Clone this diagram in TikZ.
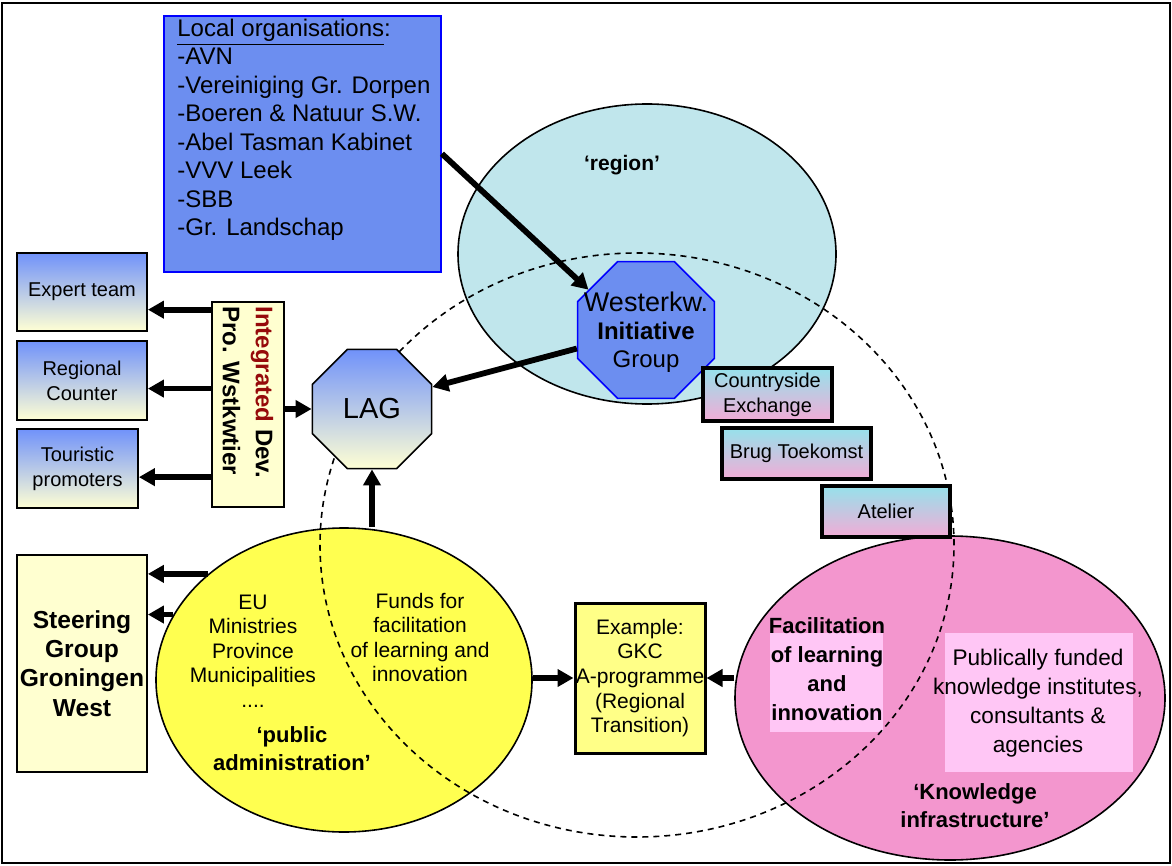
\documentclass[tikz,border=0pt]{standalone}
\usepackage{fontspec}
\setmainfont{Liberation Sans}
\usetikzlibrary{arrows.meta,shapes.geometric,calc}
\definecolor{lorgblue}{RGB}{108,142,240}
\definecolor{regioncol}{RGB}{192,230,236}
\definecolor{yellowcol}{RGB}{255,255,80}
\definecolor{pinkcol}{RGB}{243,150,206}
\definecolor{pinklight}{RGB}{255,198,245}
\definecolor{lightyellow}{RGB}{255,255,208}
\definecolor{exyellow}{RGB}{255,255,135}
\definecolor{gradblue}{RGB}{112,146,250}
\definecolor{gradyellow}{RGB}{255,255,212}
\definecolor{cbtop}{RGB}{150,225,235}
\definecolor{cbbot}{RGB}{242,172,214}
\definecolor{darkred}{RGB}{150,10,10}
\begin{document}
\begin{tikzpicture}[x=0.5pt,y=-0.5pt,
  arr/.style={line width=2.9pt,-{Triangle[length=8pt,width=8.5pt]}},
  gbox/.style={draw=black,line width=0.9pt,top color=gradblue,bottom color=gradyellow,inner sep=0pt,align=center,font=\fontsize{10}{12.5}\selectfont},
  ybox/.style={draw=black,line width=0.9pt,fill=lightyellow,inner sep=0pt},
  cbox/.style={draw=black,line width=1.6pt,top color=cbtop,bottom color=cbbot,inner sep=0pt,align=center,font=\fontsize{10}{12.5}\selectfont},
  oct/.style={regular polygon,regular polygon sides=8,inner sep=0pt},
  bubble/.style={ellipse,draw=black,line width=0.8pt,inner sep=0pt},
  hl/.style={fill=pinklight,inner sep=0pt},
  txt/.style={inner sep=0pt,align=center}]
\useasboundingbox (0,0) rectangle (1172,866);
\draw[line width=1pt] (2,3) rectangle (1170,863);

% big bubbles
\node[bubble,fill=regioncol,minimum width=189pt,minimum height=150pt] (region) at (647,254) {};
\node[bubble,fill=yellowcol,minimum width=188pt,minimum height=152pt] (yellow) at (344,680) {};
\node[bubble,fill=pinkcol,minimum width=215pt,minimum height=162pt] (pink) at (950,698) {};

% highlight areas in pink bubble
\node[hl,minimum width=56.5pt,minimum height=49.5pt] (fachl) at (826.5,682.5) {};
\node[hl,minimum width=94pt,minimum height=69.5pt] (pubhl) at (1039,702.5) {};

% dashed overlap ellipse
\node[ellipse,draw=black,line width=0.8pt,dash pattern=on 3pt off 2.5pt,minimum width=317pt,minimum height=292pt,inner sep=0pt] (learn) at (637,545) {};

% texts in bubbles
\node[txt,font=\bfseries\fontsize{10.5}{12}\selectfont] (regiontext) at (622,165) {‘region’};
\node[txt,font=\fontsize{10.5}{12.25}\selectfont] (admin) at (253,651) {EU\\Ministries\\Province\\Municipalities\\....};
\node[txt,font=\fontsize{10.5}{12.25}\selectfont] (funds) at (420,637.5) {Funds for\\facilitation\\of learning and\\innovation};
\node[txt,font=\bfseries\fontsize{11}{14}\selectfont] (pubadm) at (292,749) {‘public\\administration’};
\node[txt,font=\bfseries\fontsize{11}{14.5}\selectfont] (fac) at (827,669) {Facilitation\\of learning\\and\\innovation};
\node[txt,font=\fontsize{11.3}{14.5}\selectfont] (pub) at (1038,703.5) {Publically funded\\knowledge institutes,\\consultants \&\\agencies};
\node[txt,font=\bfseries\fontsize{11}{14}\selectfont] (kinf) at (975,806) {‘Knowledge\\infrastructure’};

% local organisations
\node[draw=blue,line width=0.9pt,fill=lorgblue,minimum width=138.5pt,minimum height=128pt,inner sep=0pt] (lorg) at (302.5,144) {};
\node[txt,anchor=west,align=left,font=\fontsize{12}{14.25}\selectfont] (lorgtext) at (177,130) {\underline{Local organisations}:\\-AVN\\-Vereiniging Gr. Dorpen\\-Boeren \& Natuur S.W.\\-Abel Tasman Kabinet\\-VVV Leek\\-SBB\\-Gr. Landschap};

% Westerkw octagon
\node[oct,draw=blue,line width=0.8pt,fill=lorgblue,minimum size=74pt] (wk) at (646,330) {};
\node[txt,font=\fontsize{12}{14}\selectfont] (wktext) at (646,332) {{\fontsize{13.5}{14}\selectfont Westerkw.}\\{\bfseries Initiative}\\Group};

% LAG octagon
\node[oct,draw=black,line width=0.8pt,top color=gradblue,bottom color=gradyellow,minimum size=64.5pt] (lag) at (372,409) {};
\node[txt,font=\fontsize{14.5}{16}\selectfont] (lagtext) at (lag) {LAG};

% left boxes
\node[gbox,minimum width=65pt,minimum height=39pt] (expert) at (82,292) {Expert team};
\node[gbox,minimum width=65pt,minimum height=39.5pt] (regional) at (82,380.5) {Regional\\Counter};
\node[gbox,minimum width=60.5pt,minimum height=39.5pt] (tour) at (77.5,468.5) {Touristic\\promoters};

\node[ybox,minimum width=36pt,minimum height=102.5pt] (intd) at (248,404.5) {};
\node[txt,rotate=-90,anchor=west,align=left,font=\bfseries\fontsize{12}{16.5}\selectfont] (intdtext) at (248,306) {\textcolor{darkred}{Integrated} Dev.\\Pro. Wstkwtier};

\node[ybox,minimum width=65pt,minimum height=108.5pt,align=center,font=\bfseries\fontsize{12.3}{14.6}\selectfont] (steer) at (82,663.5) {Steering\\Group\\Groningen\\West};

% example box
\node[draw=black,line width=1.5pt,fill=exyellow,minimum width=65pt,minimum height=75pt,inner sep=0pt,align=center,font=\fontsize{10.5}{12.3}\selectfont] (ex) at (640,678) {Example:\\GKC\\A-programme\\(Regional\\Transition)};

% countryside boxes
\node[cbox,minimum width=64.5pt,minimum height=26.5pt] (cx) at (767.5,394.5) {Countryside\\Exchange};
\node[cbox,minimum width=74.5pt,minimum height=25.5pt] (brug) at (796.5,453.5) {Brug Toekomst};
\node[cbox,minimum width=64pt,minimum height=25.5pt] (atel) at (886,511.5) {Atelier};

% arrows
\draw[arr] (lorg.-4) -- (wk.145);
\draw[arr] (wk.195) -- (lag.20);
\draw[arr] (intd.west |- expert.-15) -- (expert.-15);
\draw[arr] (intd.west |- regional.-7) -- (regional.-7);
\draw[arr] (intd.west |- tour.-8) -- (tour.-8);
\draw[arr] (intd.east |- lag.west) -- (lag.west);
\draw[arr] (lag.south |- yellow.north) -- (lag.south);
\draw[arr] (yellow.142) -- (steer.east |- yellow.142);
\draw[arr] (yellow.159) -- (steer.east |- yellow.159);
\draw[arr] (yellow.east |- ex.west) -- (ex.west);
\draw[arr] (pink.west |- ex.east) -- (ex.east);
\end{tikzpicture}
\end{document}
